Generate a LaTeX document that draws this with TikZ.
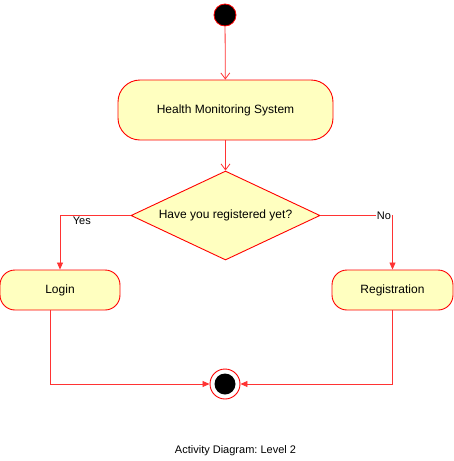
\documentclass[tikz,border=0pt]{standalone}
\usepackage{fontspec}
\setmainfont{Liberation Sans}
\usetikzlibrary{shapes.geometric,arrows.meta,positioning}
\definecolor{actfill}{HTML}{FFFFC0}
\definecolor{actline}{HTML}{FF0000}
\definecolor{conn}{HTML}{FF3333}
\frenchspacing
\begin{document}
\begin{tikzpicture}[x=1pt,y=-1pt,
  act/.style={draw=actline, fill=actfill, line width=0.9pt, rounded corners=#1, font=\fontsize{12}{14}\selectfont, inner sep=0pt},
  flow/.style={draw=conn, line width=0.8pt, -{Triangle[length=7pt,width=6pt]}},
  openflow/.style={draw=conn, line width=0.8pt, -{Straight Barb[length=6pt,width=9pt]}},
  lbl/.style={font=\fontsize{11}{13}\selectfont, fill=white, inner sep=1pt}]
\useasboundingbox (0,0) rectangle (454,461);
\node[circle, fill=black, draw=actline, line width=0.8pt, minimum size=22pt, inner sep=0pt] (start) at (225,15) {};
\node[act=22pt, minimum width=215pt, minimum height=60pt] (hms) at (225.5,110) {Health Monitoring System};
\node[diamond, draw=actline, fill=actfill, line width=0.9pt, inner sep=0pt, minimum width=189pt, minimum height=89pt, aspect=2.1, font=\fontsize{12}{14}\selectfont] (q) at (225.5,215.5) {Have you registered yet?};
\node[act=15pt, minimum width=120pt, minimum height=40pt] (login) at (60,290) {Login};
\node[act=15pt, minimum width=121pt, minimum height=40pt] (reg) at (392.5,290) {Registration};
\node[circle, draw=actline, fill=white, line width=0.9pt, minimum size=30pt, inner sep=0pt] (end) at (225,384) {};
\node[circle, fill=black, minimum size=21pt, inner sep=0pt] at (end) {};
\node[font=\fontsize{11}{13}\selectfont] (cap) at (235.5,451) {Activity Diagram: Level 2};
\draw[openflow] (start) -- (hms);
\draw[openflow] (hms) -- (q);
\draw[flow] (q.west) -| (login.north) node[lbl, pos=0.345, yshift=-5pt] {Yes};
\draw[flow] (q.east) -| (reg.north) node[lbl, pos=0.44] {No};
\draw[flow] (login.south -| 50,0) |- (end.west);
\draw[flow] (reg.south) |- (end.east);
\end{tikzpicture}
\end{document}
